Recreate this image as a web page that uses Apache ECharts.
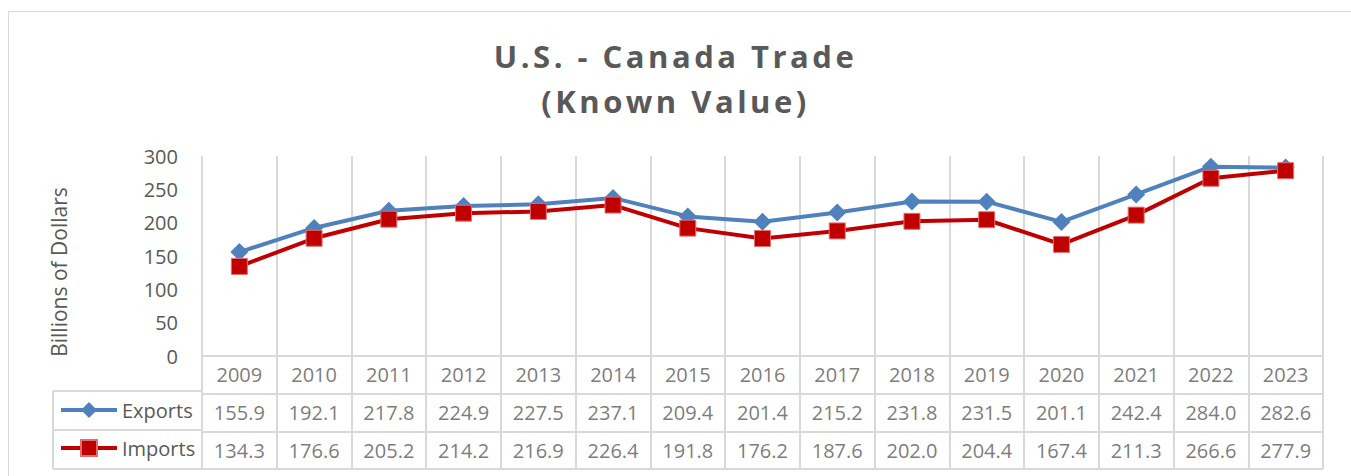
<!DOCTYPE html>
<html>
<head>
    <meta charset="UTF-8">
    <title>U.S. - Canada Trade</title>
    <style type="text/css">
        html, body { margin: 0; padding: 0; background: #fff; }
        #main { width: 1351px; height: 476px; }
        /* the title is the only 31px text: spread its letters like the original */
        #main text[style*="31px"] { letter-spacing: 3.5px; }
    </style>
</head>
<body>
<div id="main"></div>
<script src="https://cdn.jsdelivr.net/npm/echarts@6/dist/echarts.min.js"></script>
<script>
    var years = ['2009', '2010', '2011', '2012', '2013', '2014', '2015', '2016',
        '2017', '2018', '2019', '2020', '2021', '2022', '2023'];
    var exportsVals = [155.9, 192.1, 217.8, 224.9, 227.5, 237.1, 209.4, 201.4,
        215.2, 231.8, 231.5, 201.1, 242.4, 284.0, 282.6];
    var importsVals = [134.3, 176.6, 205.2, 214.2, 216.9, 226.4, 191.8, 176.2,
        187.6, 202.0, 204.4, 167.4, 211.3, 266.6, 277.9];
    var yTicks = [0, 50, 100, 150, 200, 250, 300];
    var tableRows = ['Year', 'Exports', 'Imports'];

    var font = 'Open Sans';
    var grey = '#595959';
    var lineGrey = '#d9d9d9';

    var myChart = echarts.init(document.getElementById('main'), null, { renderer: 'svg' });

    // cells of the data table, placed by the table grid's category axes
    function rowCells(row, vals, fmt) {
        return years.map(function (y, i) {
            return [y, row, fmt(vals[i])];
        });
    }
    var cellLabel = {
        show: true,
        position: 'inside',
        formatter: function (p) { return p.value[2]; },
        color: grey,
        fontSize: 20,
        fontFamily: font
    };
    function cellSeries(name, data) {
        return {
            name: name,
            type: 'scatter',
            xAxisIndex: 1,
            yAxisIndex: 1,
            symbolSize: 1,
            itemStyle: { color: 'rgba(0,0,0,0)' },
            label: cellLabel,
            silent: true,
            data: data
        };
    }

    var option = {
        animation: false,
        backgroundColor: '#fff',
        title: {
            text: 'U.S. - Canada Trade\n(Known Value)',
            left: 'center',
            top: 28,
            textStyle: {
                fontFamily: font,
                fontSize: 31,
                fontWeight: 'bold',
                color: grey,
                lineHeight: 45
            }
        },
        graphic: [{
            type: 'rect',
            shape: { x: 8.5, y: 11.5, width: 1400, height: 500 },
            style: { fill: null, stroke: lineGrey, lineWidth: 1 },
            silent: true
        }],
        legend: {
            data: ['Exports', 'Imports'],
            orient: 'vertical',
            left: 59,
            top: 400,
            padding: 0,
            itemGap: 18,
            itemWidth: 56,
            itemHeight: 20,
            lineStyle: { width: 4 },
            textStyle: { fontFamily: font, fontSize: 20, color: grey },
            selectedMode: false
        },
        grid: [
            { left: 202, right: 28, top: 156, height: 200 },
            { left: 202, right: 28, top: 356, height: 113 },
            { left: 53, width: 149, top: 391, height: 78 }
        ],
        xAxis: [{
            gridIndex: 0,
            type: 'category',
            data: years,
            axisLine: { show: false },
            axisTick: { show: false },
            axisLabel: { show: false },
            splitLine: { show: true, interval: 0, lineStyle: { color: lineGrey, width: 2 } }
        }, {
            gridIndex: 1,
            type: 'category',
            data: years,
            axisLine: { show: false },
            axisTick: { show: false },
            axisLabel: { show: false },
            splitLine: { show: true, interval: 0, lineStyle: { color: lineGrey, width: 2 } }
        }, {
            gridIndex: 2,
            type: 'category',
            data: ['key'],
            axisLine: { show: false },
            axisTick: { show: false },
            axisLabel: { show: false },
            splitLine: { show: true, interval: 0, lineStyle: { color: lineGrey, width: 2 } }
        }],
        yAxis: [{
            gridIndex: 0,
            type: 'value',
            min: yTicks[0],
            max: yTicks[yTicks.length - 1],
            interval: 50,
            name: 'Billions of Dollars',
            nameLocation: 'middle',
            nameRotate: 90,
            nameGap: 133,
            nameTextStyle: { fontFamily: font, fontSize: 21, color: grey, padding: [0, 32, 0, 0] },
            axisLine: { show: false },
            axisTick: { show: false },
            splitLine: { show: false },
            axisLabel: { fontFamily: font, fontSize: 20, color: grey, margin: 24 }
        }, {
            gridIndex: 1,
            type: 'category',
            inverse: true,
            data: tableRows,
            axisLine: { show: false },
            axisTick: { show: false },
            axisLabel: { show: false },
            splitLine: { show: true, interval: 0, lineStyle: { color: lineGrey, width: 2 } }
        }, {
            gridIndex: 2,
            type: 'category',
            data: ['Imports', 'Exports'],
            axisLine: { show: false },
            axisTick: { show: false },
            axisLabel: { show: false },
            splitLine: { show: true, interval: 0, lineStyle: { color: lineGrey, width: 2 } }
        }],
        series: [{
            name: 'Exports',
            type: 'line',
            xAxisIndex: 0,
            yAxisIndex: 0,
            data: exportsVals,
            symbol: 'diamond',
            symbolSize: 18,
            lineStyle: { width: 4, color: '#4f81bd' },
            itemStyle: { color: '#4f81bd' },
            z: 3
        }, {
            name: 'Imports',
            type: 'line',
            xAxisIndex: 0,
            yAxisIndex: 0,
            data: importsVals,
            symbol: 'rect',
            symbolSize: 16,
            lineStyle: { width: 4, color: '#c00000' },
            itemStyle: { color: '#c00000', borderColor: '#e07070', borderWidth: 1 },
            z: 4
        },
            cellSeries('yearRow', rowCells('Year', years, function (v) { return v; })),
            cellSeries('exportsRow', rowCells('Exports', exportsVals, function (v) { return v.toFixed(1); })),
            cellSeries('importsRow', rowCells('Imports', importsVals, function (v) { return v.toFixed(1); }))
        ]
    };

    myChart.setOption(option);
</script>
</body>
</html>
